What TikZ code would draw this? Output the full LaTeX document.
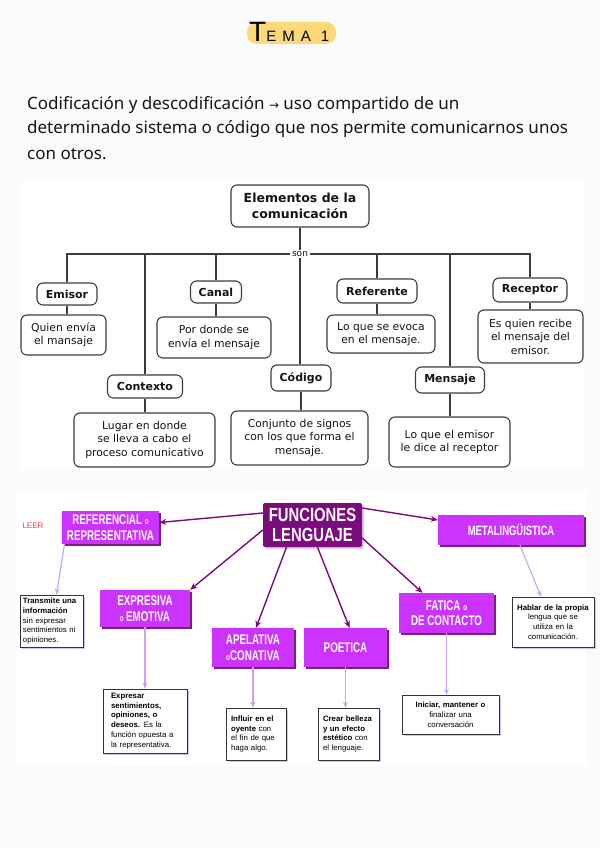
\documentclass[tikz,border=0pt]{standalone}
\usepackage{fontspec}
\setmainfont{DejaVu Sans}
\newfontfamily\parafont{Noto Sans}
\newfontfamily\arrowfont{DejaVu Sans}
\newfontfamily\arialfont{Liberation Sans}
\newfontfamily\condfont[FakeStretch=0.7]{Liberation Sans}
\newfontfamily\condfontb[FakeStretch=0.78]{Liberation Sans}
\newfontfamily\handfont[LetterSpace=40]{Liberation Sans}
\usetikzlibrary{arrows.meta,shadows,calc}
\definecolor{pagebg}{HTML}{FBFBFB}
\definecolor{lineg}{HTML}{3C3C3C}
\definecolor{txt}{HTML}{151515}
\definecolor{mag}{HTML}{CC33FF}
\definecolor{magsh}{HTML}{7A1F7A}
\definecolor{dpur}{HTML}{7B0C7B}
\definecolor{lpur}{HTML}{C9A2F2}
\definecolor{yel}{HTML}{FCD87A}
\definecolor{leer}{HTML}{FF3B3B}
\begin{document}
\begin{tikzpicture}[x=1pt,y=-1pt,
  rbox/.style={draw=lineg, line width=1.1pt, rounded corners=6pt, fill=white, text=txt, align=center, inner sep=0pt},
  lab/.style={rbox, font=\bfseries\fontsize{11}{13}\selectfont},
  desc/.style={rbox, font=\fontsize{10.8}{13.5}\selectfont},
  conn/.style={draw=lineg, line width=1.1pt},
  fbase/.style={text=white, align=center, inner sep=0pt, font=\condfont\bfseries\fontsize{14}{15.5}\selectfont},
  fbox/.style={fbase, fill=mag, drop shadow={shadow xshift=1.5pt, shadow yshift=-1.5pt, fill=magsh, opacity=1}},
  dbox/.style={draw=black!80, line width=0.6pt, fill=white, inner ysep=0pt, text=black, font=\arialfont\fontsize{7.8}{9.8}\selectfont, drop shadow={shadow xshift=2pt, shadow yshift=-2pt, fill=lpur!70, opacity=1}},
  darr/.style={draw=dpur, line width=1.4pt, -{Stealth[length=7pt,width=6pt]}},
  larr/.style={draw=lpur, line width=1.1pt, -{Stealth[length=6pt,width=5pt]}},
]
\useasboundingbox (0,0) rectangle (600,848);
\fill[pagebg] (0,0) rectangle (600,848);
% title
\fill[yel, rounded corners=10pt] (247,22) rectangle (336,44);
\node[anchor=base west, inner sep=0pt, text=black] (title) at (249,42) {{\arialfont\fontsize{28}{28}\selectfont T}{\handfont\fontsize{15}{15}\selectfont EMA 1}};
% paragraph
\node[anchor=base west, inner sep=0pt, align=left, text=txt, font=\parafont\fontsize{17}{25}\selectfont] (para) at (27,159)
 {Codificación y descodificación {\arrowfont\fontsize{12}{12}\selectfont →} uso compartido de un\\determinado sistema o código que nos permite comunicarnos unos\\con otros.};
% panel 1
\fill[white] (19,182) rectangle (584,470);
\node[rbox, font=\bfseries\fontsize{12.5}{16}\selectfont, minimum width=138pt, minimum height=42pt] (top) at (300,206) {Elementos de la\\comunicación};
\node[font=\fontsize{9}{9}\selectfont, text=txt, inner sep=1.5pt] (son) at (300,254) {son};
\node[lab, minimum width=60pt, minimum height=22pt] (emisor) at (67,294) {Emisor};
\node[lab, minimum width=51pt, minimum height=22pt] (canal) at (216,292) {Canal};
\node[lab, minimum width=80pt, minimum height=24pt] (referente) at (377,291) {Referente};
\node[lab, minimum width=74pt, minimum height=24pt] (receptor) at (530,290) {Receptor};
\node[lab, minimum width=75pt, minimum height=23pt] (contexto) at (145,386.5) {Contexto};
\node[lab, minimum width=60pt, minimum height=26pt] (codigo) at (301,378) {Código};
\node[lab, minimum width=69pt, minimum height=26pt] (mensaje) at (450,380) {Mensaje};
\node[desc, minimum width=85pt, minimum height=40pt] (demisor) at (63.5,335) {Quien envía\\el mansaje};
\node[desc, minimum width=114pt, minimum height=41pt] (dcanal) at (214,337.5) {Por donde se\\envía el mensaje};
\node[desc, minimum width=108pt, minimum height=38pt] (dref) at (381,334) {Lo que se evoca\\en el mensaje.};
\node[desc, minimum width=105pt, minimum height=53pt] (drec) at (530.5,336.5) {Es quien recibe\\el mensaje del\\emisor.};
\node[desc, minimum width=141pt, minimum height=54pt] (dctx) at (144.5,440) {Lugar en donde\\se lleva a cabo el\\proceso comunicativo};
\node[desc, minimum width=137pt, minimum height=54pt] (dcod) at (299.5,438) {Conjunto de signos\\con los que forma el\\mensaje.};
\node[desc, minimum width=121pt, minimum height=50pt] (dmen) at (449.5,442) {Lo que el emisor\\le dice al receptor};
\draw[conn] (top) -- (son);
\draw[conn] (son.west) -| (emisor.north);
\draw[conn] (son.west -| contexto.north) -- (contexto.north);
\draw[conn] (son.west -| canal.north) -- (canal.north);
\draw[conn] (son.east) -| (receptor.north);
\draw[conn] (son.east -| referente.north) -- (referente.north);
\draw[conn] (son.east -| mensaje.north) -- (mensaje.north);
\draw[conn] (son.south) -- (son.south |- codigo.north);
\draw[conn] (emisor.south) -- (emisor.south |- demisor.north);
\draw[conn] (canal.south) -- (canal.south |- dcanal.north);
\draw[conn] (referente.south) -- (referente.south |- dref.north);
\draw[conn] (receptor.south) -- (receptor.south |- drec.north);
\draw[conn] (contexto.south) -- (contexto.south |- dctx.north);
\draw[conn] (codigo.south) -- (codigo.south |- dcod.north);
\draw[conn] (mensaje.south) -- (mensaje.south |- dmen.north);
% panel 2
\fill[white] (15,490) rectangle (586,766);
\node[font=\arialfont\fontsize{8}{8}\selectfont, text=leer, inner sep=0pt] (leer) at (33,526) {LEER};
\node[fbase, fill=dpur, rounded corners=2pt, drop shadow={shadow xshift=2pt, shadow yshift=-2pt, fill=lpur!60, opacity=1}, font=\condfontb\bfseries\fontsize{19}{20}\selectfont, minimum width=99pt, minimum height=44pt] (func) at (312.5,525) {FUNCIONES\\LENGUAJE};
\node[fbox, minimum width=97pt, minimum height=33pt] (ref) at (110.5,527.5) {REFERENCIAL {\fontsize{9}{9}\selectfont o}\\REPRESENTATIVA};
\node[fbox, font=\condfont\bfseries\fontsize{13.5}{15}\selectfont, minimum width=146pt, minimum height=30pt] (meta) at (511,530) {METALINGÜISTICA};
\node[fbox, minimum width=90pt, minimum height=37pt] (exp) at (145,608.5) {EXPRESIVA\\{\fontsize{9}{9}\selectfont o}\,EMOTIVA};
\node[fbox, minimum width=82pt, minimum height=39pt] (apel) at (253,647.5) {APELATIVA\\{\fontsize{9}{9}\selectfont o}CONATIVA};
\node[fbox, minimum width=83pt, minimum height=39pt] (poet) at (345.5,647.5) {POETICA};
\node[fbox, minimum width=95pt, minimum height=40pt] (fat) at (446.5,613) {FATICA {\fontsize{9}{9}\selectfont o}\\DE CONTACTO};
\node[dbox, text width=57pt, inner xsep=3pt, minimum height=52pt, align=left] (dtr) at (51.5,621) {\textbf{Transmite una}\\\textbf{información}\\sin expresar\\sentimientos ni\\opiniones.};
\node[dbox, text width=68pt, inner xsep=8pt, minimum height=64pt, align=left] (dexp) at (145,721) {\textbf{Expresar}\\\textbf{sentimientos,}\\\textbf{opiniones, o}\\\textbf{deseos.} Es la\\función opuesta a\\la representativa.};
\node[dbox, text width=50pt, inner xsep=5pt, minimum height=52pt, align=left] (dinf) at (256,734) {\textbf{Influir en el}\\\textbf{oyente} con\\el fin de que\\haga algo.};
\node[dbox, text width=51pt, inner xsep=5pt, minimum height=52pt, align=left] (dcre) at (348.5,734) {\textbf{Crear belleza}\\\textbf{y un efecto}\\\textbf{estético} con\\el lenguaje.};
\node[dbox, text width=89pt, inner xsep=4pt, minimum height=39pt, align=center] (dini) at (450.5,714.5) {\textbf{Iniciar, mantener o}\\finalizar una\\conversación};
\node[dbox, text width=76pt, inner xsep=3pt, minimum height=50pt, align=center] (dhab) at (553,622) {\textbf{Hablar de la propia}\\lengua que se\\utiliza en la\\comunicación.};
% dark arrows
\draw[darr] ([yshift=12pt]func.west) -- ([yshift=5pt]ref.east);
\draw[darr] ([yshift=-5pt]func.west) -- (exp.north east);
\draw[darr] ([xshift=-26pt]func.south) -- ([xshift=3pt]apel.north);
\draw[darr] ([xshift=5pt]func.south) -- ([xshift=4pt]poet.north);
\draw[darr] ([yshift=-13pt]func.east) -- ([xshift=-24pt]fat.north);
\draw[darr] ([yshift=17pt]func.east) -- ([yshift=10pt]meta.west);
% light arrows
\draw[larr] ([xshift=-46pt]ref.south) -- ([xshift=5pt]dtr.north);
\draw[larr] (exp.south) -- (exp.south |- dexp.north);
\draw[larr] (apel.south) -- (apel.south |- dinf.north);
\draw[larr] (poet.south) -- (poet.south |- dcre.north);
\draw[larr] (fat.south) -- (fat.south |- dini.north);
\draw[larr] ([xshift=9pt]meta.south) -- ([xshift=-12pt]dhab.north);
\end{tikzpicture}
\end{document}
